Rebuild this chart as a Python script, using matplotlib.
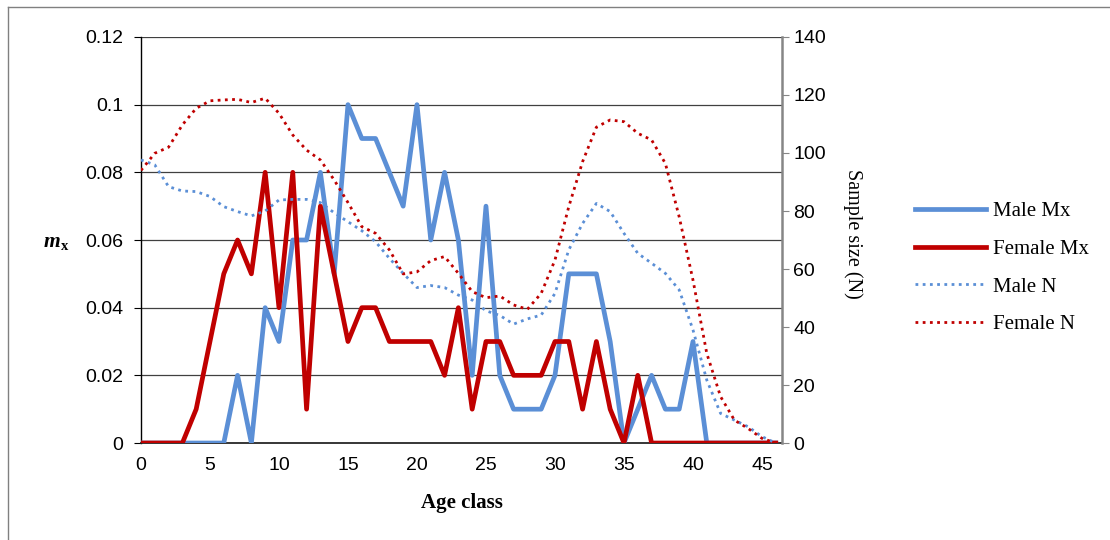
import numpy as np
import matplotlib
matplotlib.use("Agg")
from matplotlib import pyplot as plt
from matplotlib.lines import Line2D

# 年齢クラス 0〜46
age = np.arange(0, 47)

# 死亡率 mx
male_mx = [0, 0, 0, 0, 0, 0, 0, 0.02, 0, 0.04,
           0.03, 0.06, 0.06, 0.08, 0.05, 0.1, 0.09, 0.09, 0.08, 0.07,
           0.1, 0.06, 0.08, 0.06, 0.02, 0.07, 0.02, 0.01, 0.01, 0.01,
           0.02, 0.05, 0.05, 0.05, 0.03, 0, 0.01, 0.02, 0.01, 0.01,
           0.03, 0, 0, 0, 0, 0, 0]
female_mx = [0, 0, 0, 0, 0.01, 0.03, 0.05, 0.06, 0.05, 0.08,
             0.04, 0.08, 0.01, 0.07, 0.05, 0.03, 0.04, 0.04, 0.03, 0.03,
             0.03, 0.03, 0.02, 0.04, 0.01, 0.03, 0.03, 0.02, 0.02, 0.02,
             0.03, 0.03, 0.01, 0.03, 0.01, 0, 0.02, 0, 0, 0,
             0, 0, 0, 0, 0, 0, 0]

# サンプルサイズ N
male_n = [97.6, 95.9, 88.4, 86.9, 86.7, 85, 81.5, 79.8, 78.3, 80,
          83.8, 84, 84, 82.9, 79.4, 76.3, 73.2, 69.4, 63.7, 58.5,
          53.6, 54.3, 53.6, 51, 49.3, 45.6, 44, 41, 42.8, 44.1,
          51.6, 66.6, 75.7, 82.6, 79.8, 72.3, 65.4, 62, 58.5, 52.8,
          39, 21.7, 10.2, 7.9, 5.6, 2.2, 0]
female_n = [94, 99.9, 102, 109.7, 115.4, 118, 118.3, 118.5, 117.4, 118.9,
            113.7, 106.2, 101, 97.6, 90.7, 82.9, 74.6, 72.3, 66.6, 58.3,
            59, 62.9, 64.3, 58.5, 52.2, 50.1, 50.7, 47.6, 46.1, 51.6,
            63.1, 81.5, 97, 108.9, 111.4, 110.8, 106.8, 104.5, 96.4, 78,
            56.2, 30.9, 16, 7.9, 5, 1.6, 0]

mx_ticks = [0, 0.02, 0.04, 0.06, 0.08, 0.1, 0.12]
mx_labels = ["0", "0.02", "0.04", "0.06", "0.08", "0.1", "0.12"]
n_ticks = [0, 20, 40, 60, 80, 100, 120, 140]
age_ticks = [0, 5, 10, 15, 20, 25, 30, 35, 40, 45]

BLUE = "#5b8fd6"
RED = "#c00000"
SANS = "Liberation Sans"
SERIF = "Liberation Serif"
DOT = (0, (1, 1.6))

fig = plt.figure(figsize=(11.1, 5.4), dpi=100)
ax = fig.add_axes([0.127, 0.1796, 0.5775, 0.7519])
ax2 = ax.twinx()

# 外枠
fig.add_artist(Line2D([8 / 1110, 8 / 1110], [0, 1 - 7 / 540],
                      transform=fig.transFigure, color="#808080", lw=1))
fig.add_artist(Line2D([8 / 1110, 1], [1 - 7 / 540, 1 - 7 / 540],
                      transform=fig.transFigure, color="#808080", lw=1))

# mx (左軸)
ax.plot(age, male_mx, color=BLUE, lw=3.4, solid_joinstyle="round",
        label="Male Mx", zorder=3)
ax.plot(age, female_mx, color=RED, lw=3.4, solid_joinstyle="round",
        label="Female Mx", zorder=4)

# N (右軸)
ax2.plot(age, male_n, color=BLUE, lw=2.0, linestyle=DOT,
         dash_capstyle="butt", label="Male N")
ax2.plot(age, female_n, color=RED, lw=2.0, linestyle=DOT,
         dash_capstyle="butt", label="Female N")

ax.set_xlim(0, 46.45)
ax.set_ylim(0, 0.12)
ax2.set_ylim(0, 140)

for y in mx_ticks[1:]:
    ax.axhline(y, color="#404040", lw=0.9, zorder=1)

ax.set_yticks(mx_ticks)
ax.set_yticklabels(mx_labels)
ax.set_xticks(age_ticks)
ax2.set_yticks(n_ticks)

ax.tick_params(axis="y", direction="out", length=5, width=0.8,
               color="black", labelsize=14, pad=8)
ax.tick_params(axis="x", length=0, labelsize=14, pad=10)
ax2.tick_params(axis="y", direction="out", length=5, width=0.8,
                color="#868686", labelsize=14, pad=3)
for lab in ax.get_xticklabels() + ax.get_yticklabels() + ax2.get_yticklabels():
    lab.set_family(SANS)

for a in (ax, ax2):
    for side in ("top", "left", "right", "bottom"):
        a.spines[side].set_visible(False)
ax.spines["left"].set_visible(True)
ax.spines["left"].set_color("black")
ax.spines["left"].set_linewidth(1)
ax.spines["bottom"].set_visible(True)
ax.spines["bottom"].set_color("#262626")
ax.spines["bottom"].set_linewidth(1.3)
ax2.spines["right"].set_visible(True)
ax2.spines["right"].set_color("#868686")
ax2.spines["right"].set_linewidth(1.8)

ax.set_xlabel("Age class", family=SERIF, fontsize=15, fontweight="bold",
              labelpad=14)

# 左軸ラベル m_x
fig.text(52 / 1110, 1 - 247 / 540, "m", family=SERIF, fontsize=15.5,
         fontweight="bold", fontstyle="italic", ha="center", va="baseline")
fig.text(61 / 1110, 1 - 250 / 540, "x", family=SERIF, fontsize=10.5,
         fontweight="bold", ha="left", va="baseline")

ax2.set_ylabel("Sample size (N)", family=SERIF, fontsize=14.5,
               rotation=270, va="center")
ax2.yaxis.set_label_coords(1.11, 0.515)

# 凡例
handles = ax.get_lines()[:2] + ax2.get_lines()[:2]
leg = fig.legend(handles, [h.get_label() for h in handles],
                 loc="center left", bbox_to_anchor=(896 / 1110, 1 - 268 / 540),
                 frameon=False, prop={"family": SERIF, "size": 15},
                 handlelength=3.4, handletextpad=0.35, labelspacing=0.87)

fig.savefig("out.png", dpi=100)
